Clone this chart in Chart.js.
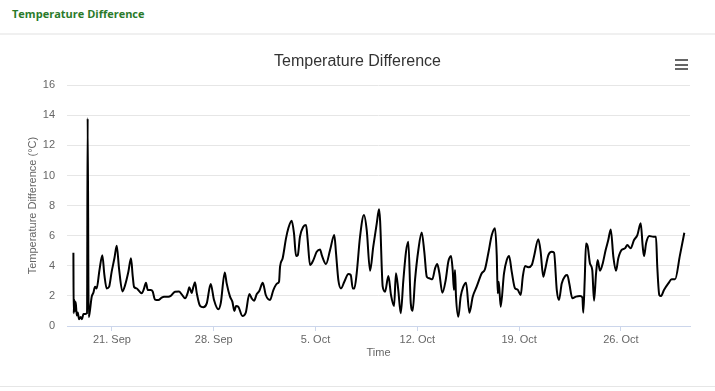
<!DOCTYPE html>
<html>
<head>
<meta charset="utf-8">
<script src="https://cdn.jsdelivr.net/npm/chart.js@4.4.1/dist/chart.umd.min.js"></script>
<style>
  html, body { margin: 0; padding: 0; background: #fff; }
  body { width: 715px; height: 391px; position: relative; overflow: hidden; }
  #hdr { position: absolute; left: 12px; top: 6px; font: bold 11px "Open Sans", sans-serif; color: #2a7a2a; }
  #sep { position: absolute; left: 0; top: 33px; width: 715px; height: 2px; background: #f0f0f0; }
  #bot { position: absolute; left: 0; top: 386px; width: 715px; height: 1px; background: #e6e6e6; }
  #wrap { position: absolute; left: 0; top: 0; width: 715px; height: 391px; }
  .bar { position: absolute; left: 675px; width: 13px; height: 2px; background: #666; }
</style>
</head>
<body>
<div id="hdr">Temperature Difference</div>
<div id="sep"></div>
<div id="wrap"><canvas id="c" width="715" height="391"></canvas></div>
<div class="bar" style="top:59px"></div>
<div class="bar" style="top:63.5px"></div>
<div class="bar" style="top:68px"></div>
<div id="bot"></div>
<script>
// x = days since 1 Sep (0 = 1 Sep 00:00)
const days = [
17.35,17.37,17.42,17.46,17.51,17.58,17.65,17.74,17.85,17.94,18.04,18.17,18.29,18.33,18.40,18.47,18.61,18.72,18.84,18.95,
19.14,19.34,19.48,19.64,19.80,19.98,20.17,20.33,20.49,20.72,20.90,21.13,21.31,21.43,21.52,21.70,21.89,22.05,22.21,22.34,
22.46,22.67,22.80,22.96,23.19,23.42,23.58,23.88,24.04,24.34,24.61,24.80,25.03,25.21,25.32,25.48,25.60,25.71,25.83,
26.06,26.28,26.52,26.79,27.02,27.32,27.48,27.76,27.89,28.12,28.28,28.42,28.53,28.69,28.97,29.20,29.45,29.61,29.77,29.96,
30.14,30.37,30.58,30.87,31.10,31.37,31.49,31.56,31.74,31.97,32.13,32.36,32.52,32.66,32.78,32.93,33.16,33.35,33.46,33.62,
33.85,34.08,34.31,34.43,34.72,35.00,35.29,35.41,35.57,35.75,35.98,36.26,36.42,36.56,36.67,36.83,37.06,37.33,37.52,37.75,
37.97,38.21,38.37,38.44,
38.62,38.78,39.01,39.19,39.40,39.53,39.69,39.86,40.04,40.22,40.38,40.55,40.68,40.84,41.07,41.30,41.48,41.65,41.82,42.03,
42.22,42.37,42.51,42.72,42.95,43.13,43.32,43.43,43.52,43.59,43.66,43.82,43.98,44.16,44.35,44.58,44.81,45.08,45.43,45.65,
45.88,46.12,46.34,46.46,46.53,46.60,46.73,46.96,47.15,47.31,47.49,47.72,47.88,48.11,48.25,48.41,48.63,48.87,49.02,49.32,
49.48,49.66,
49.78,50.01,50.24,50.40,50.59,50.74,50.93,51.16,51.31,51.45,51.66,51.91,52.19,52.35,52.41,52.51,52.60,52.72,52.87,53.03,
53.15,53.29,53.40,53.56,53.75,53.95,54.13,54.30,54.48,54.66,54.82,55.05,55.28,55.44,55.67,55.90,56.13,56.36,56.50,56.59,
56.73,56.95,57.23,57.41,57.50,57.64,57.76,57.96,58.26,58.49,58.72,59.06,59.36
];
const tempDiff = [
4.87,0.84,1.75,1.0,1.6,0.7,0.9,0.45,0.6,0.45,0.8,0.8,0.85,13.8,0.6,0.9,1.95,2.2,2.6,2.5,
3.7,4.7,3.4,2.5,2.6,3.6,4.5,5.33,3.8,2.3,2.7,3.6,4.5,3.3,2.6,2.5,2.3,2.17,2.5,2.88,
2.4,2.4,2.3,1.75,1.72,1.88,1.95,1.95,2.0,2.28,2.3,2.1,1.84,2.2,2.57,2.2,2.6,2.9,2.2,
1.33,1.24,1.5,2.79,1.73,1.11,1.5,3.56,2.83,1.95,1.62,1.0,1.33,1.28,0.66,0.88,2.12,1.84,1.68,2.12,
2.34,2.88,2.06,1.73,2.39,2.83,2.94,3.94,4.5,5.82,6.49,6.99,6.15,4.65,4.71,5.93,6.59,6.71,5.71,4.05,
4.38,4.93,5.09,4.71,4.12,5.05,6.04,4.83,3.05,2.5,2.94,3.45,3.39,2.5,2.5,3.5,5.93,7.37,6.37,3.67,
5.27,6.82,7.75,7.0,
2.61,2.28,3.32,2.06,1.33,3.5,2.39,0.84,3.05,4.93,5.6,1.5,1.02,3.05,5.05,6.22,4.93,3.27,3.17,3.1,
3.83,4.12,3.54,2.21,3.05,4.27,4.65,3.72,2.39,3.72,1.95,0.62,1.95,2.61,2.88,0.88,1.95,2.61,3.5,3.77,
4.83,6.04,6.49,4.71,2.17,2.94,1.28,3.5,4.38,4.65,3.61,2.5,2.43,2.06,3.27,3.98,3.9,4.05,4.6,5.76,
4.93,3.27,
3.72,4.71,4.93,4.87,2.39,1.73,2.83,3.32,3.39,2.83,1.84,1.95,1.99,1.9,0.88,3.05,5.49,5.27,4.16,3.72,
1.68,3.5,4.38,3.67,4.16,5.05,5.71,6.42,4.6,3.67,4.5,5.05,5.16,5.38,5.16,5.71,6.04,6.82,5.27,4.65,
5.49,5.98,5.93,5.93,3.94,2.06,1.99,2.39,2.83,3.1,3.1,4.71,6.2
];
const tickDays = [20, 27, 34, 41, 48, 55];
const tickLabels = ["21. Sep", "28. Sep", "5. Oct", "12. Oct", "19. Oct", "26. Oct"];
const yTicks = [0, 2, 4, 6, 8, 10, 12, 14, 16];
const chartTitle = "Temperature Difference";
const yTitle = "Temperature Difference (°C)";
const xTitle = "Time";

const points = days.map((d, i) => ({ x: d, y: tempDiff[i] }));
const FONT = "'Liberation Sans', Arial, sans-serif";

new Chart(document.getElementById('c'), {
  type: 'line',
  data: { datasets: [{ data: points, borderColor: '#000', borderWidth: 2, pointRadius: 0, cubicInterpolationMode: 'monotone', fill: false }] },
  options: {
    responsive: false,
    animation: false,
    devicePixelRatio: 1,
    layout: { padding: { top: 52, left: 25, right: 25, bottom: 0 } },
    plugins: {
      legend: { display: false },
      tooltip: { enabled: false },
      title: { display: true, text: chartTitle, color: '#333', font: { family: FONT, size: 16, weight: 'normal' }, padding: { top: 0, bottom: 14 } }
    },
    scales: {
      x: {
        type: 'linear',
        min: 16.91, max: 59.75,
        afterBuildTicks: s => { s.ticks = tickDays.map(v => ({ value: v })); },
        afterFit: s => { s.height = 65; },
        ticks: { callback: v => { const i = tickDays.indexOf(v); return i >= 0 ? tickLabels[i] : ''; }, color: '#666', font: { family: FONT, size: 11 }, padding: 2, maxRotation: 0, autoSkip: false },
        grid: { drawOnChartArea: false, drawTicks: true, tickLength: 5, color: '#ccd6eb' },
        border: { display: true, color: '#ccd6eb', width: 1 },
        title: { display: true, text: xTitle, color: '#666', font: { family: FONT, size: 11 }, padding: { top: 0, bottom: 31 } }
      },
      y: {
        min: 0, max: 16,
        afterBuildTicks: s => { s.ticks = yTicks.map(v => ({ value: v })); },
        afterFit: s => { s.width = 42; },
        ticks: { color: '#666', font: { family: FONT, size: 11 }, padding: 12 },
        grid: { color: '#e6e6e6', drawTicks: false },
        border: { display: false },
        title: { display: true, text: yTitle, color: '#666', font: { family: FONT, size: 11 }, padding: { top: 1, bottom: 0 } }
      }
    }
  }
});
</script>
</body>
</html>
